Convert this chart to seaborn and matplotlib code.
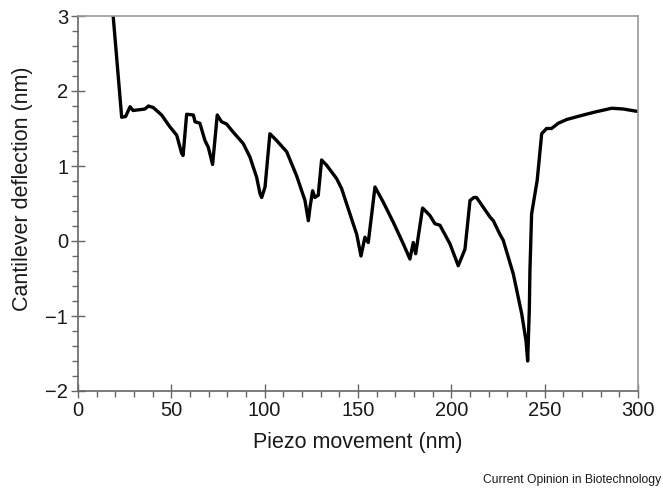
import matplotlib
matplotlib.use("Agg")
import matplotlib.pyplot as plt
from matplotlib.ticker import MultipleLocator
import seaborn as sns
import pandas as pd

# Force-distance trace: piezo movement (nm) vs cantilever deflection (nm)
piezo_nm = [
    18.5, 23.4, 25.5, 27.9, 29.5, 35.9, 37.7, 40.3, 44.8, 49.3, 52.9, 55.5, 56.3,
    58.2, 61.8, 62.7, 65.3, 68.0, 69.8, 72.1,
    74.6, 76.9, 79.6, 83.2, 88.5, 92.1, 95.7, 97.5, 98.4, 100.2,
    102.8, 106.4, 111.8, 117.1, 121.6, 123.4, 124.3, 125.7, 126.9, 128.7,
    130.5, 133.2, 138.6, 141.2, 145.7, 149.3, 151.6, 153.7, 155.5,
    159.1, 163.5, 168.9, 174.3, 177.8, 179.6, 180.9,
    184.6, 188.5, 191.2, 193.9, 199.3, 203.7, 207.3,
    210.0, 212.1, 213.5, 217.1, 220.7, 222.5, 226.0, 227.8, 233.2, 237.7, 240.0, 240.9,
    241.8, 242.1, 243.0, 246.0, 248.4, 251.0, 253.7, 257.3, 261.8, 270.7, 277.0,
    285.9, 292.1, 299.2, 300.0,
]
deflection_nm = [
    3.10, 1.65, 1.66, 1.79, 1.74, 1.76, 1.80, 1.78, 1.68, 1.52, 1.41, 1.17, 1.14,
    1.69, 1.68, 1.59, 1.57, 1.34, 1.25, 1.02,
    1.68, 1.59, 1.56, 1.45, 1.30, 1.12, 0.85, 0.63, 0.58, 0.72,
    1.43, 1.34, 1.19, 0.87, 0.54, 0.27, 0.45, 0.67, 0.58, 0.61,
    1.08, 1.01, 0.83, 0.70, 0.36, 0.09, -0.20, 0.05, -0.02,
    0.72, 0.52, 0.25, -0.04, -0.24, -0.02, -0.17,
    0.44, 0.34, 0.23, 0.21, -0.04, -0.33, -0.11,
    0.54, 0.58, 0.58, 0.45, 0.32, 0.27, 0.09, 0.01, -0.44, -0.97, -1.33, -1.60,
    -0.89, -0.40, 0.36, 0.81, 1.43, 1.50, 1.50, 1.57, 1.62, 1.68, 1.72,
    1.77, 1.76, 1.73, 1.73,
]

x_ticks = [0, 50, 100, 150, 200, 250, 300]
y_ticks = [-2, -1, 0, 1, 2, 3]
y_tick_labels = ["\u22122", "\u22121", "0", "1", "2", "3"]

sns.set_style("ticks")
plt.rcParams["font.family"] = ["Liberation Sans", "DejaVu Sans"]

df = pd.DataFrame({"piezo": piezo_nm, "deflection": deflection_nm})

fig = plt.figure(figsize=(6.63, 4.91), dpi=100)
ax = fig.add_axes([78 / 663, 1 - 391 / 491, 560 / 663, 375 / 491])

sns.lineplot(data=df, x="piezo", y="deflection", sort=False, color="black",
             linewidth=2.4, ax=ax)

ax.set_xlim(0, 300)
ax.set_ylim(-2, 3)
ax.set_xticks(x_ticks)
ax.set_yticks(y_ticks)
ax.set_yticklabels(y_tick_labels)
ax.xaxis.set_minor_locator(MultipleLocator(10))
ax.yaxis.set_minor_locator(MultipleLocator(0.2))

tick_color = "#666666"
text_color = "#1a1a1a"
ax.tick_params(which="major", direction="inout", length=10, width=1,
               color=tick_color, labelsize=14.5, labelcolor=text_color, pad=2)
ax.tick_params(which="minor", direction="out", length=4, width=1, color=tick_color)

for side in ("left", "bottom"):
    ax.spines[side].set_color(tick_color)
    ax.spines[side].set_linewidth(1.2)
for side in ("top", "right"):
    ax.spines[side].set_visible(True)
    ax.spines[side].set_color("#9a9a9a")
    ax.spines[side].set_linewidth(1.2)

ax.set_xlabel("Piezo movement (nm)", fontsize=15.5, color=text_color, labelpad=9)
ax.set_ylabel("Cantilever deflection (nm)", fontsize=15.5, color=text_color)
ax.yaxis.set_label_coords(-0.081, 0.54)

fig.text(0.998, 11 / 491, "Current Opinion in Biotechnology", ha="right", va="center",
         fontsize=8.7, color=text_color)

fig.savefig("out.png", dpi=100)
